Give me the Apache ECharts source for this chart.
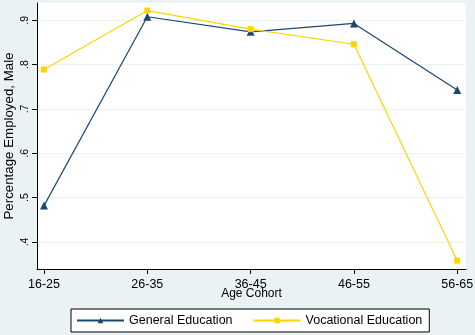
<!DOCTYPE html>
<html><head><meta charset="utf-8">
<script src="https://cdn.jsdelivr.net/npm/echarts@6/dist/echarts.min.js"></script>
<style>html,body{margin:0;padding:0;background:#EAF2F3}#c{width:475px;height:335px}</style>
</head><body><div id="c"></div>
<script>
const categories = ['16-25','26-35','36-45','46-55','56-65'];
const generalEd = [0.482, 0.908, 0.874, 0.893, 0.743];
const vocationalEd = [0.789, 0.922, 0.880, 0.846, 0.358];
const yTickValues = [0.4, 0.5, 0.6, 0.7, 0.8, 0.9];
const yTickLabels = ['.4', '.5', '.6', '.7', '.8', '.9'];

const font = 'Liberation Sans, Arial, sans-serif';
const chart = echarts.init(document.getElementById('c'), null, {renderer: 'canvas'});
chart.setOption({
  backgroundColor: '#EAF2F3',
  animation: false,
  grid: {left: 37, right: 9, top: 3, bottom: 66, show: true, backgroundColor: '#ffffff', borderWidth: 0, outerBoundsMode: 'none', containLabel: false},
  xAxis: {
    type: 'value', min: -0.068, max: 4.085,
    name: 'Age Cohort', nameLocation: 'middle', nameGap: 19, nameMoveOverlap: false,
    nameTextStyle: {fontFamily: font, fontSize: 12, color: '#000'},
    axisLine: {show: true, onZero: false, lineStyle: {color: '#000', width: 1}},
    axisTick: {show: true, length: 5, lineStyle: {color: '#000'}, customValues: [0,1,2,3,4]},
    axisLabel: {customValues: [0,1,2,3,4], formatter: v => categories[Math.round(v)], fontFamily: font, fontSize: 12.5, color: '#000', margin: 9},
    splitLine: {show: false}
  },
  yAxis: {
    type: 'value', min: 0.339, max: 0.939,
    name: 'Percentage Employed, Male', nameLocation: 'middle', nameGap: 21, nameMoveOverlap: false,
    nameTextStyle: {fontFamily: font, fontSize: 13.3, color: '#000'},
    axisLine: {show: true, onZero: false, lineStyle: {color: '#000', width: 1}},
    axisTick: {show: true, length: 5, lineStyle: {color: '#000'}, customValues: yTickValues},
    axisLabel: {customValues: yTickValues, rotate: 90, formatter: v => yTickLabels[yTickValues.findIndex(t => Math.abs(t - v) < 1e-6)], fontFamily: font, fontSize: 10.5, color: '#000', margin: 6},
    splitLine: {show: true, lineStyle: {color: '#EAF2F3', width: 1}}
  },
  legend: {
    left: 71, top: 309, orient: 'horizontal',
    backgroundColor: '#fff', borderColor: '#000', borderWidth: 1, borderRadius: 0,
    padding: [5, 7, 5, 5], itemGap: 20, itemWidth: 47, itemHeight: 7,
    textStyle: {fontFamily: font, fontSize: 12.5, color: '#000'},
    data: ['General Education', 'Vocational Education']
  },
  series: [
    {name: 'General Education', type: 'line', data: generalEd.map((v, i) => [i, v]),
     color: '#1A476F', lineStyle: {width: 1.2, color: '#1A476F'},
     symbol: 'triangle', symbolSize: 8, itemStyle: {color: '#1A476F'}},
    {name: 'Vocational Education', type: 'line', data: vocationalEd.map((v, i) => [i, v]),
     color: '#FFD400', lineStyle: {width: 1.2, color: '#FFD400'},
     symbol: 'rect', symbolSize: 6, itemStyle: {color: '#FFD400'}}
  ]
});
</script></body></html>
